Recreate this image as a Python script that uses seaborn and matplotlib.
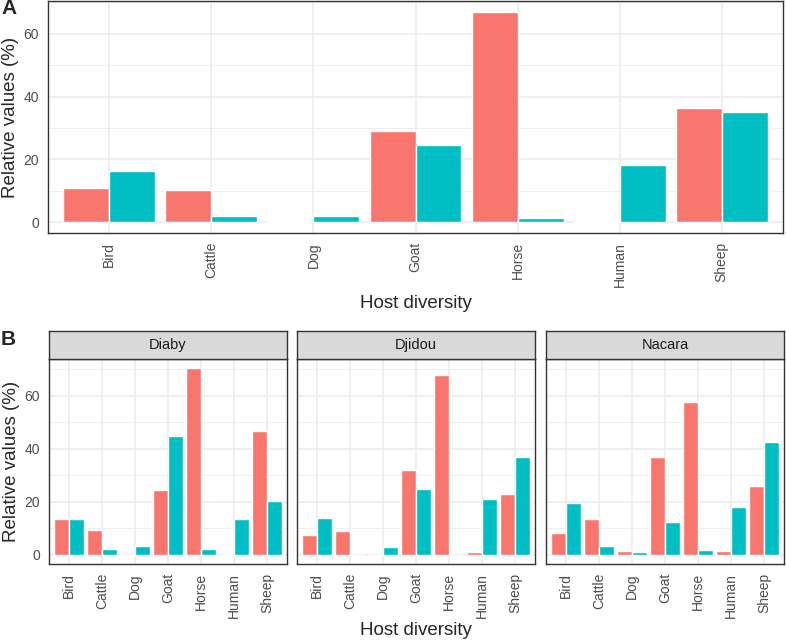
import pandas as pd
import matplotlib
matplotlib.use('Agg')
import matplotlib.pyplot as plt
from matplotlib.ticker import MultipleLocator
import seaborn as sns

hosts = ['Bird', 'Cattle', 'Dog', 'Goat', 'Horse', 'Human', 'Sheep']
groups = ['Group 1', 'Group 2']
sites = ['Diaby', 'Djidou', 'Nacara']

# panel A, all sites together
all_g1 = [10.8, 10.2, 0.4, 29.0, 67.0, 0.6, 36.3]
all_g2 = [16.3, 1.9, 2.2, 24.7, 1.5, 18.1, 35.2]

# panel B, per site
diaby_g1 = [13.5, 9.3, 0.0, 24.3, 70.4, 0.0, 46.7]
diaby_g2 = [13.5, 2.1, 3.2, 45.0, 2.1, 13.4, 20.2]
djidou_g1 = [7.6, 8.8, 0.0, 32.0, 68.0, 1.0, 23.0]
djidou_g2 = [13.8, 0.0, 2.8, 25.0, 0.0, 21.1, 36.9]
nacara_g1 = [8.1, 13.5, 1.3, 36.9, 57.5, 1.3, 25.9]
nacara_g2 = [19.7, 3.2, 1.0, 12.4, 1.9, 18.2, 42.6]

palette = {'Group 1': '#F8766D', 'Group 2': '#00BFC4'}


def long_df(g1, g2):
    return pd.DataFrame({
        'Host': hosts * 2,
        'Group': [groups[0]] * len(hosts) + [groups[1]] * len(hosts),
        'Value': list(g1) + list(g2),
    })


df_all = long_df(all_g1, all_g2)
site_dfs = {
    'Diaby': long_df(diaby_g1, diaby_g2),
    'Djidou': long_df(djidou_g1, djidou_g2),
    'Nacara': long_df(nacara_g1, nacara_g2),
}

sns.set_style('white')
plt.rcParams['font.family'] = ['Liberation Sans', 'DejaVu Sans']

W, H = 786, 643
fig = plt.figure(figsize=(W / 100, H / 100), dpi=100)


def px_axes(left, top, right, bottom):
    return fig.add_axes([left / W, (H - bottom) / H, (right - left) / W, (bottom - top) / H])


def style_ax(ax, ymax):
    ax.set_ylim(-ymax * 0.05, ymax * 1.05)
    ax.set_xlim(-0.6, len(hosts) - 0.4)
    ax.yaxis.set_major_locator(MultipleLocator(20))
    ax.yaxis.set_minor_locator(MultipleLocator(10))
    ax.grid(which='major', color='#EBEBEB', linewidth=1.1)
    ax.grid(which='minor', axis='y', color='#EBEBEB', linewidth=0.55)
    ax.set_axisbelow(True)
    for s in ax.spines.values():
        s.set_color('#333333')
        s.set_linewidth(1.0)
    ax.tick_params(axis='both', which='major', length=3.5, width=0.9, color='#333333',
                   labelcolor='#4D4D4D', labelsize=10, direction='out', pad=3)
    ax.tick_params(axis='y', which='minor', length=0)
    ax.tick_params(axis='x', labelrotation=90)
    ax.set_xlabel('')
    ax.set_ylabel('')


# Panel A
axA = px_axes(48, 1, 783, 233)
sns.barplot(data=df_all, x='Host', y='Value', hue='Group', order=hosts, hue_order=groups,
            palette=palette, width=0.9, saturation=1, legend=False, ax=axA)
style_ax(axA, max(all_g1 + all_g2))
axA.set_xlabel('Host diversity', fontsize=13.5, labelpad=6)
axA.set_ylabel('Relative values (%)', fontsize=13.5, labelpad=3)
fig.text(1 / W, 1 - 9 / H, 'A', fontsize=15, fontweight='bold', va='center')

# Panel B
lefts = [49, 297, 546]
fw = 238
site_max = max(max(d['Value']) for d in site_dfs.values())
for i, site in enumerate(sites):
    l = lefts[i]
    ax = px_axes(l, 359, l + fw, 564)
    sns.barplot(data=site_dfs[site], x='Host', y='Value', hue='Group', order=hosts,
                hue_order=groups, palette=palette, width=0.9, saturation=1,
                legend=False, ax=ax)
    style_ax(ax, site_max)
    if i > 0:
        ax.set_yticklabels([])
        ax.tick_params(axis='y', which='major', length=0)
    else:
        ax.set_ylabel('Relative values (%)', fontsize=13.5, labelpad=3)
    if i == 1:
        ax.set_xlabel('Host diversity', fontsize=13.5, labelpad=3)
    strip = px_axes(l, 331, l + fw, 359)
    strip.set_facecolor('#D9D9D9')
    strip.set_xticks([])
    strip.set_yticks([])
    for s in strip.spines.values():
        s.set_color('#333333')
        s.set_linewidth(1.0)
    strip.text(0.5, 0.5, site, ha='center', va='center', fontsize=10.5, color='#1A1A1A',
               transform=strip.transAxes)

fig.text(1 / W, 1 - 340 / H, 'B', fontsize=15, fontweight='bold', va='center')

fig.savefig('out.png', dpi=100)
